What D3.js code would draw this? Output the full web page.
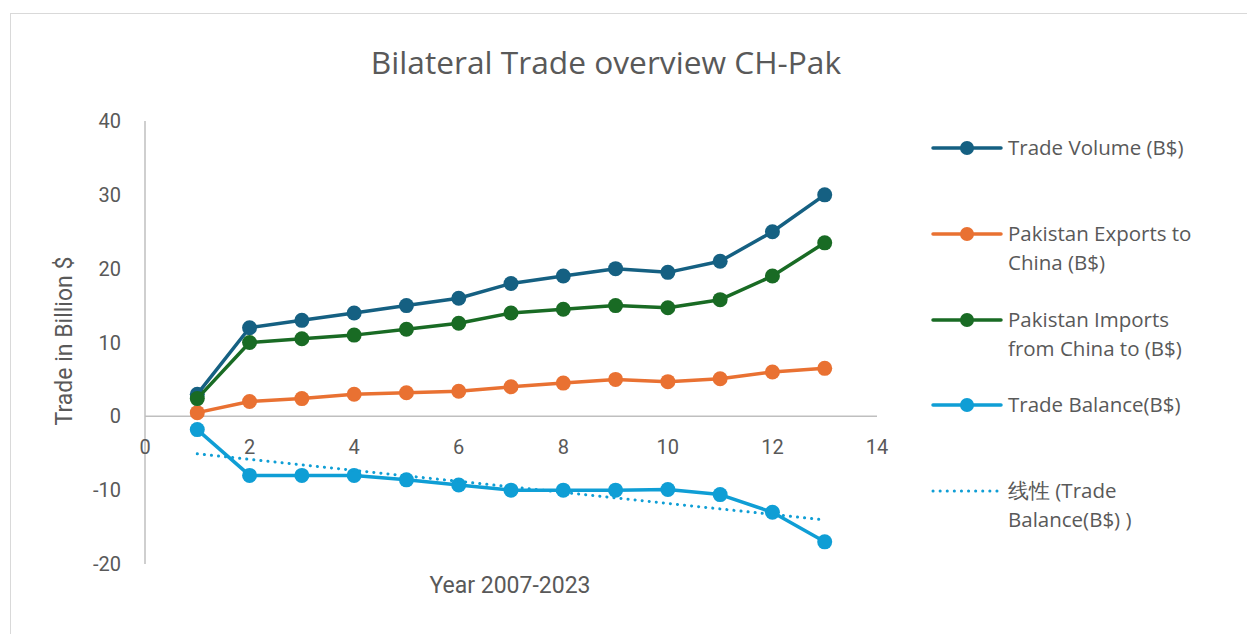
<!DOCTYPE html>
<html>
<head>
<meta charset="utf-8">
<script src="https://cdn.jsdelivr.net/npm/d3@7"></script>
<style>
  body { margin: 0; background: #fff; }
  svg text { font-family: "Open Sans", "Noto Sans", sans-serif; fill: #595959; }
  svg text.ax { font-family: Roboto, "Open Sans", sans-serif; }
</style>
</head>
<body>
<svg id="chart" width="1247" height="634"></svg>
<script>
// values
var years = [1, 2, 3, 4, 5, 6, 7, 8, 9, 10, 11, 12, 13];
var tradeVolume = [3, 12, 13, 14, 15, 16, 18, 19, 20, 19.5, 21, 25, 30];
var exportsToChina = [0.5, 2, 2.4, 3, 3.2, 3.4, 4, 4.5, 5, 4.7, 5.1, 6, 6.5];
var importsFromChina = [2.4, 10, 10.5, 11, 11.8, 12.6, 14, 14.5, 15, 14.7, 15.8, 19, 23.5];
var tradeBalance = [-1.8, -8, -8, -8, -8.6, -9.3, -10, -10, -10, -9.9, -10.6, -13, -17];
var xTicks = [0, 2, 4, 6, 8, 10, 12, 14];
var yTicks = [-20, -10, 0, 10, 20, 30, 40];

var series = [
  { name: ["Trade Volume (B$)"], values: tradeVolume, color: "#156082" },
  { name: ["Pakistan Exports to", "China (B$)"], values: exportsToChina, color: "#E97132" },
  { name: ["Pakistan Imports", "from China to (B$)"], values: importsFromChina, color: "#196B24" },
  { name: ["Trade Balance(B$)"], values: tradeBalance, color: "#0F9ED5" }
];

var svg = d3.select("#chart");

// chart frame
svg.append("rect")
  .attr("x", 10.5).attr("y", 13.5)
  .attr("width", 1250).attr("height", 630)
  .attr("fill", "#fff").attr("stroke", "#d9d9d9");

svg.append("text")
  .attr("x", 606).attr("y", 74)
  .attr("text-anchor", "middle")
  .style("font-size", "31.7px")
  .text("Bilateral Trade overview CH-Pak");

var x = d3.scaleLinear().domain([0, 14]).range([145, 877]);
var y = d3.scaleLinear().domain([-20, 40]).range([564, 121]);

// axes: lines only, labels placed by hand like Excel does
svg.append("line")
  .attr("x1", x(0)).attr("x2", x(0))
  .attr("y1", y(40)).attr("y2", y(-20))
  .attr("stroke", "#bfbfbf").attr("stroke-width", 1.5);
svg.append("line")
  .attr("x1", x(0)).attr("x2", x(14))
  .attr("y1", y(0)).attr("y2", y(0))
  .attr("stroke", "#bfbfbf").attr("stroke-width", 1.5);

svg.selectAll(".ytick")
  .data(yTicks)
  .enter().append("text")
  .attr("class", "ytick ax")
  .attr("x", 121)
  .attr("y", function(d){ return y(d) + 7; })
  .attr("text-anchor", "end")
  .style("font-size", "20px")
  .text(function(d){ return d; });

svg.selectAll(".xtick")
  .data(xTicks)
  .enter().append("text")
  .attr("class", "xtick ax")
  .attr("x", function(d){ return x(d); })
  .attr("y", y(0) + 38)
  .attr("text-anchor", "middle")
  .style("font-size", "20px")
  .text(function(d){ return d; });

svg.append("text")
  .attr("class", "ax")
  .attr("transform", "translate(72," + 341 + ") rotate(-90)")
  .attr("text-anchor", "middle")
  .style("font-size", "23px")
  .text("Trade in Billion $");

svg.append("text")
  .attr("class", "ax")
  .attr("x", 510).attr("y", 593)
  .attr("text-anchor", "middle")
  .style("font-size", "23px")
  .text("Year 2007-2023");

// linear trend of the trade balance
var n = years.length;
var mx = d3.mean(years), my = d3.mean(tradeBalance);
var slope = d3.sum(years, function(d, i){ return (d - mx) * (tradeBalance[i] - my); }) /
            d3.sum(years, function(d){ return (d - mx) * (d - mx); });
var icpt = my - slope * mx;

var line = d3.line()
  .x(function(d, i){ return x(years[i]); })
  .y(function(d){ return y(d); });

series.forEach(function(s){
  svg.append("path")
    .datum(s.values)
    .attr("d", line)
    .attr("fill", "none")
    .attr("stroke", s.color)
    .attr("stroke-width", 3.5)
    .attr("stroke-linejoin", "round");
  svg.selectAll(null)
    .data(s.values)
    .enter().append("circle")
    .attr("cx", function(d, i){ return x(years[i]); })
    .attr("cy", function(d){ return y(d); })
    .attr("r", 7.5)
    .attr("fill", s.color);
});

svg.append("line")
  .attr("x1", x(years[0])).attr("y1", y(icpt + slope * years[0]))
  .attr("x2", x(years[n - 1])).attr("y2", y(icpt + slope * years[n - 1]))
  .attr("stroke", "#0F9ED5")
  .attr("stroke-width", 3)
  .attr("stroke-dasharray", "0.1 7")
  .attr("stroke-linecap", "round");

// legend
var legendY = [148, 234, 320, 405];
series.forEach(function(s, i){
  var g = svg.append("g").attr("transform", "translate(0," + legendY[i] + ")");
  g.append("line").attr("x1", 933).attr("x2", 1001)
    .attr("stroke", s.color).attr("stroke-width", 3.5).attr("stroke-linecap", "round");
  g.append("circle").attr("cx", 967).attr("r", 7).attr("fill", s.color);
  s.name.forEach(function(t, j){
    g.append("text").attr("x", 1008).attr("y", 7 + j * 29)
      .style("font-size", "20.5px").text(t);
  });
});

var tg = svg.append("g").attr("transform", "translate(0,491)");
tg.append("line").attr("x1", 933).attr("x2", 1001)
  .attr("stroke", "#0F9ED5").attr("stroke-width", 3)
  .attr("stroke-dasharray", "0.1 7").attr("stroke-linecap", "round");
tg.append("text").attr("x", 1008).attr("y", 7)
  .style("font-size", "20.5px").text("线性 (Trade");
tg.append("text").attr("x", 1008).attr("y", 36)
  .style("font-size", "20.5px").text("Balance(B$) )");
</script>
</body>
</html>
